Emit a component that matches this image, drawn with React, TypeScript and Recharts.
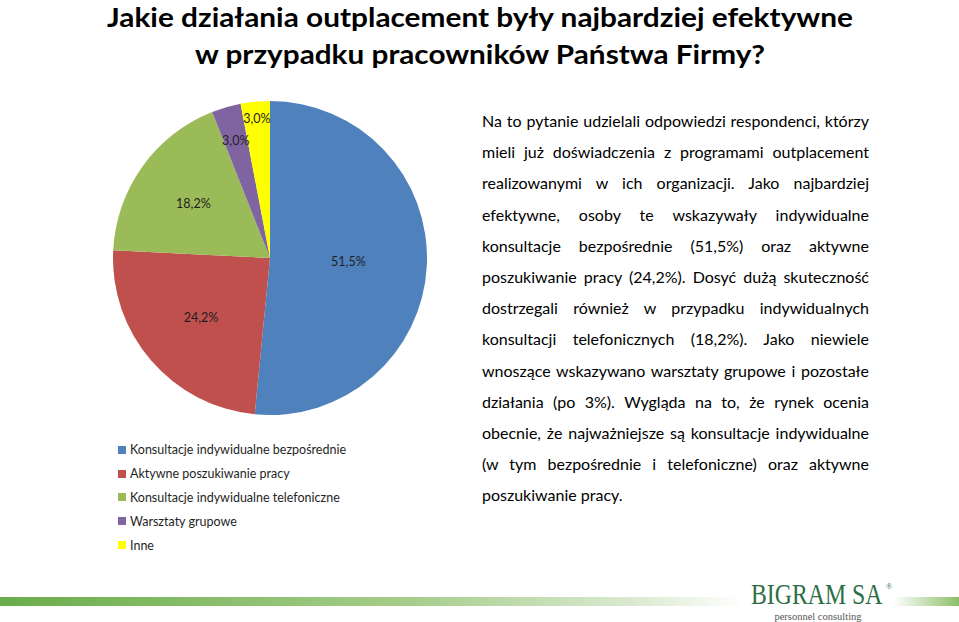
import React from "react"
import { PieChart, Pie, Cell } from "recharts"

// dane z wykresu
const categories = [
    "Konsultacje indywidualne bezpośrednie",
    "Aktywne poszukiwanie pracy",
    "Konsultacje indywidualne telefoniczne",
    "Warsztaty grupowe",
    "Inne",
]
const values = [51.5, 24.2, 18.2, 3.0, 3.0]
const colors = ["#4F81BD", "#C0504D", "#9BBB59", "#8064A2", "#FFFF00"]

const titleLines = [
    "Jakie działania outplacement były najbardziej efektywne",
    "w przypadku pracowników Państwa Firmy?",
]

const paragraphLines = [
    "Na to pytanie udzielali odpowiedzi respondenci, którzy",
    "mieli już doświadczenia z programami outplacement",
    "realizowanymi w ich organizacji. Jako najbardziej",
    "efektywne, osoby te wskazywały indywidualne",
    "konsultacje bezpośrednie (51,5%) oraz aktywne",
    "poszukiwanie pracy (24,2%). Dosyć dużą skuteczność",
    "dostrzegali również w przypadku indywidualnych",
    "konsultacji telefonicznych (18,2%). Jako niewiele",
    "wnoszące wskazywano warsztaty grupowe i pozostałe",
    "działania (po 3%). Wygląda na to, że rynek ocenia",
    "obecnie, że najważniejsze są konsultacje indywidualne",
    "(w tym bezpośrednie i telefoniczne) oraz aktywne",
    "poszukiwanie pracy.",
]

const chartData = categories.map((name, i) => ({ name, value: values[i] }))

// odległość etykiety od środka (ułamek promienia) - jak "best fit" w Excelu
const labelRadius = [0.5, 0.58, 0.6, 0.78, 0.89]
const RADIAN = Math.PI / 180

const fmt = (v: number) => v.toFixed(1).replace(".", ",") + "%"

const renderLabel = (props: any) => {
    const { cx, cy, midAngle, outerRadius, index, value } = props
    const r = outerRadius * labelRadius[index]
    const x = cx + r * Math.cos(-midAngle * RADIAN)
    const y = cy + r * Math.sin(-midAngle * RADIAN)
    return (
        <text x={x} y={y} fill="#1f1f1f" fontSize={12.5} fontFamily="Lato" textAnchor="middle" dominantBaseline="central">
            {fmt(value)}
        </text>
    )
}

export default function App() {
    return (
        <div style={{ position: "absolute", left: 0, top: 0, width: 959, height: 622, background: "#fff", overflow: "hidden" }}>
            {/* tytuł, pasek i logo */}
            <svg width={959} height={622} style={{ position: "absolute", left: 0, top: 0 }}>
                <defs>
                    <linearGradient id="barL" x1="0" x2="1" y1="0" y2="0">
                        <stop offset="0" stopColor="#6AAD4A" />
                        <stop offset="0.55" stopColor="#A6CD8B" />
                        <stop offset="0.85" stopColor="#DAEAD0" />
                        <stop offset="1" stopColor="#ffffff" />
                    </linearGradient>
                    <linearGradient id="barR" x1="0" x2="1" y1="0" y2="0">
                        <stop offset="0" stopColor="#ffffff" />
                        <stop offset="1" stopColor="#8CBE68" />
                    </linearGradient>
                </defs>
                <text x={480} y={27} textAnchor="middle" fontFamily="Lato" fontWeight="bold" fontSize={27} fill="#000"
                    textLength={746} lengthAdjust="spacingAndGlyphs">{titleLines[0]}</text>
                <text x={480} y={64} textAnchor="middle" fontFamily="Lato" fontWeight="bold" fontSize={27} fill="#000"
                    textLength={570} lengthAdjust="spacingAndGlyphs">{titleLines[1]}</text>

                <rect x={0} y={597} width={745} height={9} fill="url(#barL)" />
                <rect x={893} y={597} width={66} height={9} fill="url(#barR)" />
                <g transform="translate(751,604) scale(0.82,1)">
                    <text x={0} y={0} fontFamily="Liberation Serif" fontSize={29} fill="#2E6E47">BIGRAM SA</text>
                </g>
                <text x={886} y={589} fontFamily="Liberation Serif" fontSize={8} fill="#2E6E47">®</text>
                <text x={818} y={620} textAnchor="middle" fontFamily="Liberation Serif" fontSize={10.5} fill="#555">personnel consulting</text>
            </svg>

            <div style={{ position: "absolute", left: 0, top: 0 }}>
                <PieChart width={540} height={430} margin={{ top: 0, right: 0, bottom: 0, left: 0 }}>
                    <Pie
                        data={chartData}
                        dataKey="value"
                        nameKey="name"
                        cx={270}
                        cy={258}
                        outerRadius={157}
                        startAngle={90}
                        endAngle={-270}
                        stroke="none"
                        label={renderLabel}
                        labelLine={false}
                        isAnimationActive={false}
                    >
                        {chartData.map((entry, index) => (
                            <Cell key={`cell-${index}`} fill={colors[index]} />
                        ))}
                    </Pie>
                </PieChart>
            </div>

            {/* legenda */}
            <div style={{ position: "absolute", left: 118, top: 438, fontFamily: "Lato", fontSize: 12.5, color: "#1f1f1f" }}>
                {chartData.map((item, i) => (
                    <div key={item.name} style={{ display: "flex", alignItems: "center", height: 23.8 }}>
                        <div style={{ width: 8, height: 8, background: colors[i], marginRight: 4 }} />
                        <span>{item.name}</span>
                    </div>
                ))}
            </div>

            {/* komentarz */}
            <div style={{ position: "absolute", left: 482, top: 105, width: 387, fontFamily: "Lato", fontSize: 16, color: "#000" }}>
                {paragraphLines.map((line, i) => (
                    <div key={i} style={{
                        height: 31.2, lineHeight: "31.2px", whiteSpace: "nowrap",
                        textAlign: "justify", textAlignLast: i === paragraphLines.length - 1 ? "left" : "justify",
                    }}>{line}</div>
                ))}
            </div>
        </div>
    )
}
